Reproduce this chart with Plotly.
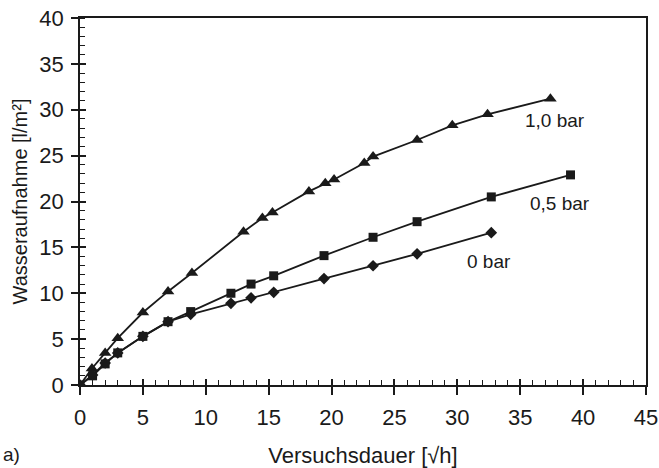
import plotly.graph_objects as go

# Data
x_10bar = [0, 0.95, 2, 3, 5, 7, 8.9, 13, 14.5, 15.3, 18.2, 19.5, 20.2, 22.6, 23.3, 26.8, 29.6, 32.4, 37.4]
y_10bar = [0, 1.8, 3.5, 5.1, 7.9, 10.2, 12.2, 16.7, 18.2, 18.8, 21.1, 22.0, 22.4, 24.2, 24.9, 26.7, 28.3, 29.5, 31.2]

x_05bar = [0, 1, 2, 3, 5, 7, 8.8, 12, 13.6, 15.4, 19.4, 23.3, 26.8, 32.7, 39.0]
y_05bar = [0, 1.0, 2.3, 3.5, 5.3, 6.9, 8.0, 10.0, 11.0, 11.9, 14.1, 16.1, 17.8, 20.5, 22.9]

x_0bar = [0, 1, 2, 3, 5, 7, 8.8, 12, 13.6, 15.4, 19.4, 23.3, 26.8, 32.7]
y_0bar = [0, 1.1, 2.4, 3.5, 5.3, 6.9, 7.7, 8.9, 9.5, 10.1, 11.6, 13.0, 14.3, 16.6]

series_labels = ["1,0 bar", "0,5 bar", "0 bar"]
label_x = [37.8, 38.2, 32.5]
label_y = [28.8, 19.8, 13.5]

x_title = "Versuchsdauer [√h]"
y_title = "Wasseraufnahme [l/m²]"

FONT = "Liberation Sans, Arial, sans-serif"
INK = "#1a1a1a"

fig = go.Figure()
fig.add_trace(go.Scatter(x=x_10bar, y=y_10bar, mode="lines+markers",
                         line=dict(color=INK, width=1.8),
                         marker=dict(symbol="triangle-up", size=11, color=INK)))
fig.add_trace(go.Scatter(x=x_05bar, y=y_05bar, mode="lines+markers",
                         line=dict(color=INK, width=1.8),
                         marker=dict(symbol="square", size=9, color=INK)))
fig.add_trace(go.Scatter(x=x_0bar, y=y_0bar, mode="lines+markers",
                         line=dict(color=INK, width=1.8),
                         marker=dict(symbol="diamond", size=9, color=INK)))

for t, lx, ly in zip(series_labels, label_x, label_y):
    fig.add_annotation(x=lx, y=ly, text=t, showarrow=False,
                       font=dict(family=FONT, size=19, color=INK))

fig.add_annotation(x=-0.14, y=-0.19, xref="paper", yref="paper", text="a)",
                   showarrow=False, xanchor="left", yanchor="middle",
                   font=dict(family=FONT, size=19, color=INK))

axis_common = dict(showgrid=False, zeroline=False, showline=True, linecolor=INK,
                   linewidth=1.5, mirror=True, ticks="outside",
                   tickwidth=1.5, tickcolor=INK, automargin=False,
                   tickfont=dict(family=FONT, size=22, color=INK))

fig.update_layout(
    width=659, height=468,
    margin=dict(l=80, r=13, t=18, b=83),
    paper_bgcolor="white", plot_bgcolor="white",
    showlegend=False,
    font=dict(family=FONT, size=22, color=INK),
    xaxis=dict(range=[0, 45], dtick=5, tick0=0, ticklen=8, ticklabelstandoff=4,
               title=dict(text=x_title, font=dict(family=FONT, size=22, color=INK), standoff=22),
               minor=dict(dtick=1, ticks="inside", ticklen=5, tickwidth=1.2, tickcolor=INK),
               **axis_common),
    yaxis=dict(range=[0, 40], dtick=5, tick0=0, ticklen=7, ticklabelstandoff=3,
               title=dict(text=y_title, font=dict(family=FONT, size=20, color=INK), standoff=6),
               minor=dict(dtick=1, ticks="inside", ticklen=5, tickwidth=1.2, tickcolor=INK),
               **axis_common),
    xaxis2=dict(overlaying="x", range=[0, 45], dtick=5, tick0=0, side="bottom",
                showticklabels=False, ticks="inside", ticklen=6, tickwidth=1.5,
                tickcolor=INK, showgrid=False, zeroline=False, showline=False),
    yaxis2=dict(overlaying="y", range=[0, 40], dtick=5, tick0=0, side="left",
                showticklabels=False, ticks="inside", ticklen=6, tickwidth=1.5,
                tickcolor=INK, showgrid=False, zeroline=False, showline=False),
)

# invisible trace to activate the overlay axes (crossing major ticks)
fig.add_trace(go.Scatter(x=[0], y=[0], xaxis="x2", yaxis="y2",
                         mode="markers", marker=dict(opacity=0),
                         hoverinfo="skip", showlegend=False))

fig.write_html("out.html")
